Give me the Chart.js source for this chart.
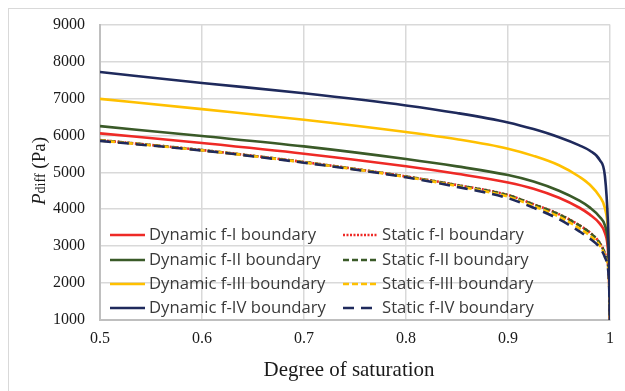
<!DOCTYPE html>
<html>
<head>
<meta charset="utf-8">
<script src="https://cdn.jsdelivr.net/npm/chart.js@4/dist/chart.umd.min.js"></script>
<style>
  html, body { margin: 0; padding: 0; background: #ffffff; overflow: hidden; }
  #frame { position: absolute; left: 8px; top: 8px; width: 700px; height: 500px; border: 1px solid #d9d9d9; }
  #wrap { position: absolute; left: 0; top: 0; width: 625px; height: 391px; }
</style>
</head>
<body>
<div id="frame"></div>
<div id="wrap"><canvas id="c" width="625" height="391"></canvas></div>
<script>
// Degree of saturation (x values shared by every curve)
const saturation = [0.5, 0.6, 0.7, 0.8, 0.85, 0.9, 0.925, 0.95, 0.97, 0.98, 0.99, 0.995, 0.998, 0.999, 1.0];

// Pressure difference (Pa) for each boundary
const dynamicI   = [6054, 5792, 5504, 5162, 4960, 4725, 4555, 4310, 4040, 3860, 3610, 3360, 2900, 2300, 1000];
const staticI    = [5872, 5602, 5278, 4888, 4655, 4385, 4135, 3865, 3565, 3375, 3085, 2805, 2505, 2150, 1000];
const dynamicII  = [6250, 5982, 5703, 5360, 5160, 4925, 4750, 4500, 4230, 4050, 3790, 3560, 3100, 2500, 1000];
const staticII   = [5870, 5600, 5275, 4885, 4650, 4380, 4130, 3860, 3560, 3370, 3080, 2800, 2500, 2150, 1000];
const dynamicIII = [6990, 6710, 6423, 6090, 5895, 5640, 5445, 5190, 4880, 4670, 4340, 4030, 3450, 2800, 1000];
const staticIII  = [5860, 5595, 5268, 4875, 4628, 4340, 4085, 3795, 3480, 3290, 3020, 2750, 2450, 2100, 1000];
const dynamicIV  = [7715, 7420, 7140, 6811, 6605, 6350, 6170, 5950, 5730, 5590, 5330, 4900, 3620, 2600, 1000];
const staticIV   = [5850, 5590, 5260, 4865, 4605, 4300, 4040, 3730, 3400, 3210, 2960, 2700, 2400, 2050, 1000];

const seriesLabels = [
  'Dynamic f-I boundary', 'Static f-I boundary',
  'Dynamic f-II boundary', 'Static f-II boundary',
  'Dynamic f-III boundary', 'Static f-III boundary',
  'Dynamic f-IV boundary', 'Static f-IV boundary'
];
const seriesValues = [dynamicI, staticI, dynamicII, staticII, dynamicIII, staticIII, dynamicIV, staticIV];

const RED = '#ee2a26', GREEN = '#3a5a28', YELLOW = '#ffc000', NAVY = '#1f2a5c';
const colors = [RED, RED, GREEN, GREEN, YELLOW, YELLOW, NAVY, NAVY];
const dashes = [[], [2, 1.5], [], [6, 3], [], [6, 3], [], [11, 7]];
// lower order is painted on top
const orders = [6, 4, 5, 3, 7, 2, 0, 1];

const xTicks = [0.5, 0.6, 0.7, 0.8, 0.9, 1];
const yTicks = [1000, 2000, 3000, 4000, 5000, 6000, 7000, 8000, 9000];

const datasets = seriesLabels.map((label, i) => ({
  label,
  data: saturation.map((s, k) => ({ x: s, y: seriesValues[i][k] })),
  borderColor: colors[i],
  backgroundColor: colors[i],
  borderDash: dashes[i],
  borderWidth: 2.6,
  pointRadius: 0,
  fill: false,
  cubicInterpolationMode: 'monotone',
  order: orders[i]
}));

const SERIF = '"Liberation Serif", "Times New Roman", serif';
const SANS = '"Open Sans", "Noto Sans", sans-serif';

// Axis titles and the two-column legend inside the plot
const decorations = {
  id: 'decorations',
  afterDraw(chart) {
    const ctx = chart.ctx;
    ctx.save();

    // x-axis title, sized to span 171 px
    ctx.fillStyle = '#1a1a1a';
    ctx.font = '20px ' + SERIF;
    const xTitle = 'Degree of saturation';
    const xSize = 20 * 171 / ctx.measureText(xTitle).width;
    ctx.font = xSize.toFixed(2) + 'px ' + SERIF;
    ctx.textAlign = 'center';
    ctx.textBaseline = 'alphabetic';
    ctx.fillText(xTitle, 349, 376);

    // y-axis title: italic P, smaller "diff", then (Pa)
    ctx.save();
    ctx.translate(45, 171);
    ctx.rotate(-Math.PI / 2);
    const parts = [
      { t: 'P', f: 'italic 19px ' + SERIF },
      { t: 'diff', f: '14px ' + SERIF },
      { t: ' (Pa)', f: '19px ' + SERIF }
    ];
    let total = 0;
    parts.forEach(p => { ctx.font = p.f; p.w = ctx.measureText(p.t).width; total += p.w; });
    let x = -total / 2;
    ctx.textAlign = 'left';
    parts.forEach(p => { ctx.font = p.f; ctx.fillText(p.t, x, 0); x += p.w; });
    ctx.restore();

    // legend
    ctx.font = '16px ' + SANS;
    const fontPx = 16 * 167 / ctx.measureText('Dynamic f-I boundary').width;
    ctx.font = fontPx.toFixed(2) + 'px ' + SANS;
    const colX = [110, 343];
    const rowY = [235, 260, 284, 308];
    chart.data.datasets.forEach((ds, i) => {
      const cx = colX[i % 2];
      const cy = rowY[Math.floor(i / 2)];
      ctx.beginPath();
      ctx.setLineDash(ds.borderDash || []);
      ctx.lineWidth = ds.borderWidth;
      ctx.strokeStyle = ds.borderColor;
      ctx.moveTo(cx, cy);
      ctx.lineTo(cx + 35, cy);
      ctx.stroke();
      ctx.setLineDash([]);
      ctx.fillStyle = '#3a3a3a';
      ctx.textAlign = 'left';
      ctx.textBaseline = 'middle';
      ctx.fillText(ds.label, cx + 39, cy);
    });
    ctx.restore();
  }
};

new Chart(document.getElementById('c'), {
  type: 'line',
  data: { datasets },
  plugins: [decorations],
  options: {
    responsive: false,
    animation: false,
    devicePixelRatio: 1,
    layout: { padding: { left: 0, top: 24, right: 15, bottom: 0 } },
    plugins: { legend: { display: false }, tooltip: { enabled: false }, title: { display: false } },
    scales: {
      x: {
        type: 'linear',
        min: 0.5,
        max: 1,
        afterFit(s) { s.height = 71; },
        afterBuildTicks(s) { s.ticks = xTicks.map(v => ({ value: v })); },
        ticks: {
          padding: 9,
          color: '#1a1a1a',
          font: { family: SERIF, size: 16 },
          callback: v => String(Math.round(v * 10) / 10)
        },
        grid: { color: '#d9d9d9', lineWidth: 1.5, drawTicks: false },
        border: { color: '#bfbfbf', width: 2 }
      },
      y: {
        min: 1000,
        max: 9000,
        afterFit(s) { s.width = 100; },
        afterBuildTicks(s) { s.ticks = yTicks.map(v => ({ value: v })); },
        ticks: {
          padding: 15,
          color: '#1a1a1a',
          font: { family: SERIF, size: 16 },
          callback: v => String(v)
        },
        grid: { color: '#d9d9d9', lineWidth: 1.5, drawTicks: false },
        border: { color: '#bfbfbf', width: 2 }
      }
    }
  }
});
</script>
</body>
</html>
